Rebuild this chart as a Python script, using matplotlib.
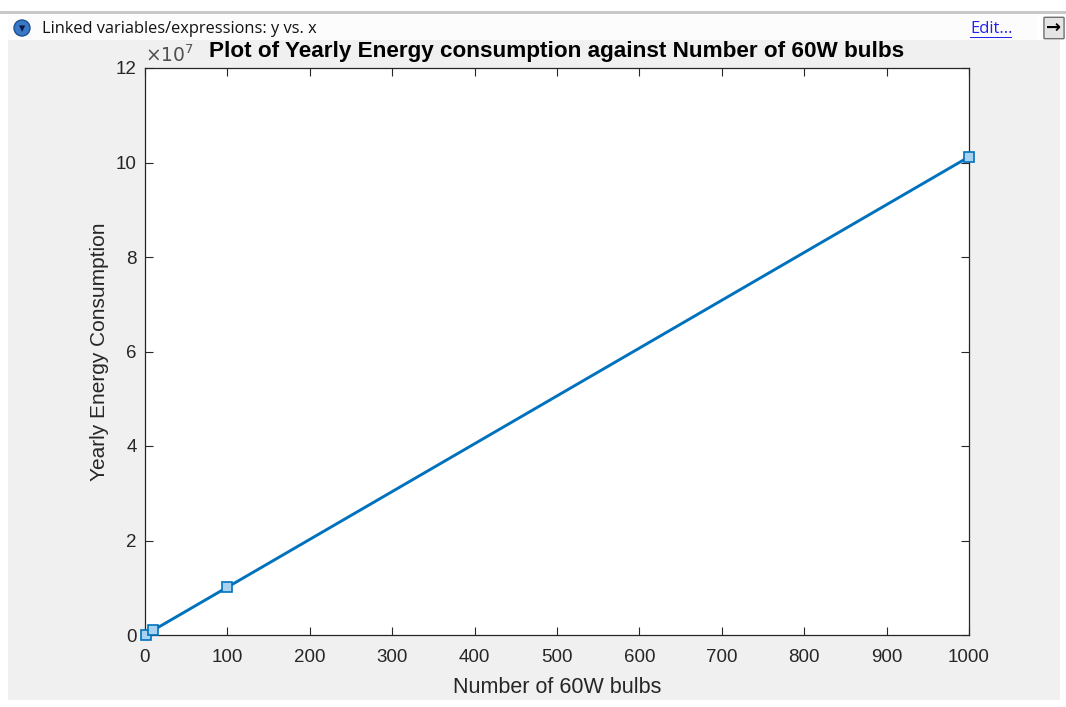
import matplotlib
matplotlib.use('Agg')
import matplotlib.pyplot as plt
from matplotlib.patches import Rectangle, Ellipse, FancyBboxPatch

plt.rcParams['font.family'] = ['Liberation Sans', 'DejaVu Sans']

# data
bulbs = [1, 10, 100, 1000]
energy = [1.012e5, 1.012e6, 1.012e7, 1.012e8]

xticks = [0, 100, 200, 300, 400, 500, 600, 700, 800, 900, 1000]
yticks = [0, 2, 4, 6, 8, 10, 12]

W, H = 1066, 707
fig = plt.figure(figsize=(W / 100, H / 100), dpi=100)
fig.patch.set_facecolor('white')

def fx(px):
    return px / W

def fy(py):
    return 1 - py / H

def box(x0, y0, w, h, **kw):
    r = Rectangle((fx(x0), fy(y0 + h)), w / W, h / H, transform=fig.transFigure, **kw)
    fig.patches.append(r)
    return r

# window background, separator line, linked-variables strip
box(8, 40, 1052, 660, facecolor='#f0f0f0', edgecolor='none', zorder=-5)
box(0, 11, W, 3, facecolor='#c8c8c8', edgecolor='none', zorder=-4)
box(8, 15, 1030, 25, facecolor='#fcfcfc', edgecolor='none', zorder=-4)
box(970, 37, 42, 1, facecolor='#2222ee', edgecolor='none', zorder=-3)

fig.patches.append(Ellipse((fx(22), fy(28)), 16 / W, 16 / H, transform=fig.transFigure,
                           facecolor='#3a78c8', edgecolor='#1d4f90', lw=1, zorder=-3))
fig.text(fx(22), fy(28.5), '\u25BE', color='#0a1a40', fontsize=9, ha='center',
         va='center', family='DejaVu Sans')
fig.text(fx(42), fy(29), 'Linked variables/expressions: y vs. x', fontsize=11.8,
         family='Open Sans', ha='left', va='center', color='#111111')
fig.text(fx(970), fy(29), 'Edit...', fontsize=12, family='Open Sans',
         ha='left', va='center', color='#2222ee')
fig.patches.append(FancyBboxPatch((fx(1045), fy(38)), fx(18), 20 / H,
                                  boxstyle='round,pad=0.001', transform=fig.transFigure,
                                  facecolor='#e4e4e4', edgecolor='#707070', lw=1, zorder=-3))
fig.text(fx(1054), fy(28), '\u2192', fontsize=13, weight='bold', ha='center', va='center',
         family='DejaVu Sans', color='black')

ax = fig.add_axes([fx(145), fy(635), fx(969 - 145), (635 - 68) / H])
ax.set_facecolor('white')
ax.plot(bulbs, [e / 1e7 for e in energy], color='#0072bd', lw=2.1,
        marker='s', markersize=7.5, markerfacecolor='#a8d2f0',
        markeredgecolor='#0072bd', markeredgewidth=1.2, clip_on=False, zorder=3)

ax.set_xlim(0, 1000)
ax.set_ylim(0, 12)
ax.set_xticks(xticks)
ax.set_yticks(yticks)
ax.tick_params(direction='in', top=True, right=True, length=6, width=0.8,
               labelsize=13.5, colors='#262626')
ax.tick_params(axis='x', pad=10)
ax.tick_params(axis='y', pad=6)
for s in ax.spines.values():
    s.set_color('#262626')
    s.set_linewidth(0.9)

ax.set_xlabel('Number of 60W bulbs', fontsize=15.5, color='#262626', labelpad=8)
ax.set_ylabel('Yearly Energy Consumption', fontsize=15, color='#262626', labelpad=5)
ax.set_title('Plot of Yearly Energy consumption against Number of 60W bulbs',
             fontsize=16.2, weight='bold', color='black', pad=8)
ax.text(0.0, 1.003, '$\\times10^{7}$', transform=ax.transAxes, fontsize=13.5,
        color='#505050', ha='left', va='bottom')

fig.savefig('out.png', dpi=100)
